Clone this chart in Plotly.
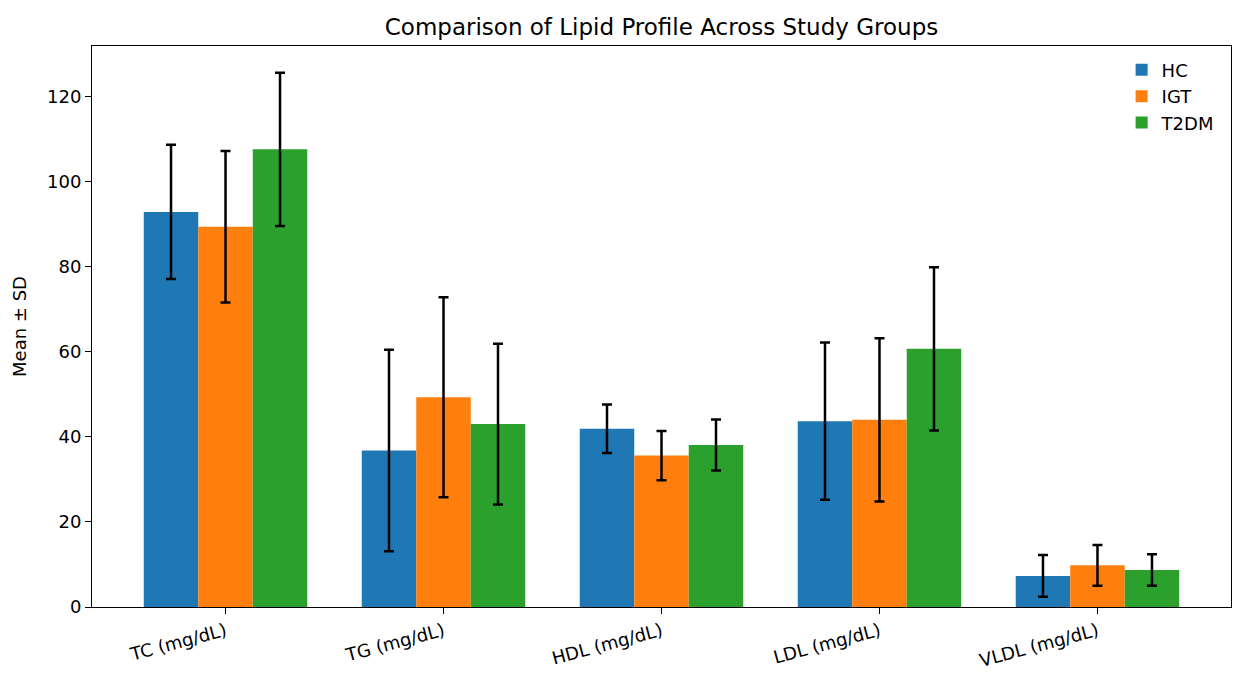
import plotly.graph_objects as go

categories = ["TC (mg/dL)", "TG (mg/dL)", "HDL (mg/dL)", "LDL (mg/dL)", "VLDL (mg/dL)"]
groups = ["HC", "IGT", "T2DM"]
hc_mean = [92.9, 36.8, 41.9, 43.7, 7.3]
hc_sd = [15.8, 23.7, 5.7, 18.5, 4.9]
igt_mean = [89.4, 49.3, 35.6, 44.0, 9.8]
igt_sd = [17.8, 23.5, 5.8, 19.2, 4.8]
t2dm_mean = [107.6, 43.0, 38.1, 60.7, 8.7]
t2dm_sd = [18.0, 18.9, 6.0, 19.2, 3.7]

colors = ["#1f77b4", "#ff7f0e", "#2ca02c"]
means = [hc_mean, igt_mean, t2dm_mean]
sds = [hc_sd, igt_sd, t2dm_sd]

fig = go.Figure()
for g, m, s, c in zip(groups, means, sds, colors):
    fig.add_trace(go.Bar(
        x=categories, y=m, name=g, legendgroup=g, marker=dict(color=c, line=dict(width=0)),
        error_y=dict(type="data", array=s, visible=True, color="black", thickness=2.5, width=5),
    ))

fig.update_layout(
    width=1234, height=673,
    barmode="group", bargap=0.25, bargroupgap=0,
    paper_bgcolor="white", plot_bgcolor="white",
    font=dict(family="DejaVu Sans", size=18, color="black"),
    title=dict(text="Comparison of Lipid Profile Across Study Groups", x=0.5, xref="paper",
               xanchor="center", y=1 - 27 / 673, yanchor="middle", font=dict(size=23)),
    margin=dict(l=92, r=2, t=46, b=63),
    legend=dict(x=0.99, y=0.99, xanchor="right", yanchor="top", bgcolor="rgba(255,255,255,0.8)",
                font=dict(size=18), traceorder="normal", tracegroupgap=6),
    xaxis=dict(range=[-0.6125, 4.6125], showline=True, linecolor="black", linewidth=1, mirror=True,
               ticks="outside", ticklen=6, tickcolor="black", tickangle=-15, showgrid=False,
               tickfont=dict(size=18)),
    yaxis=dict(range=[0, 131.9], showline=True, linecolor="black", linewidth=1, mirror=True,
               ticks="outside", ticklen=6, tickcolor="black", showgrid=False, zeroline=False,
               tickvals=[0, 20, 40, 60, 80, 100, 120], title=dict(text="Mean ± SD", font=dict(size=18)),
               tickfont=dict(size=18)),
)

fig.write_html("out.html", config={"displayModeBar": False},
               post_script="document.body.style.margin='0';")
